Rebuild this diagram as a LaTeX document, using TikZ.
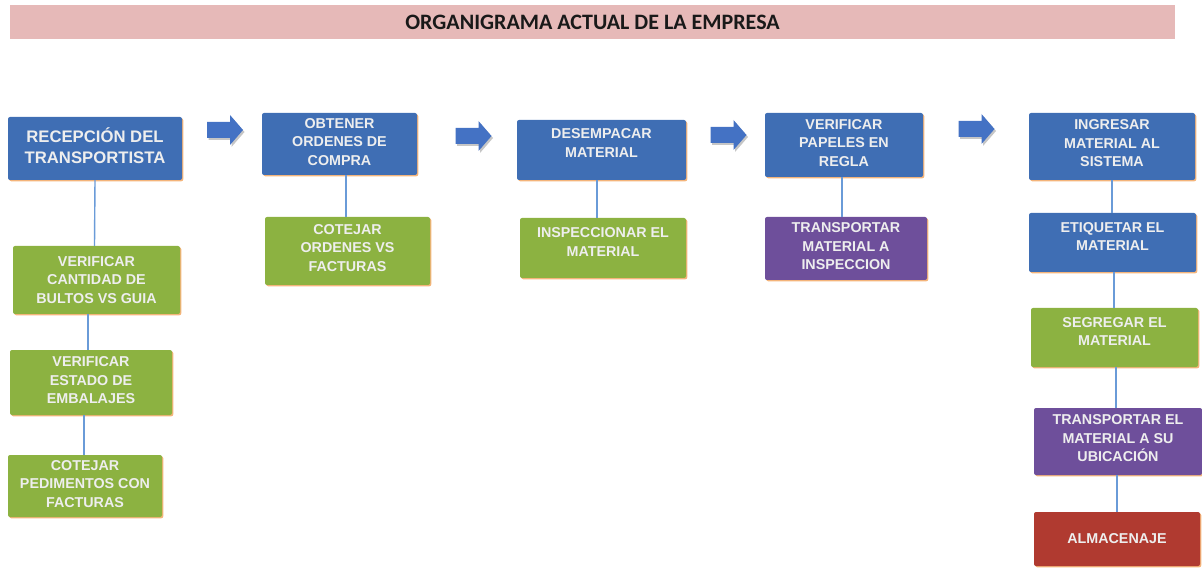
\documentclass[tikz,border=0pt]{standalone}
\usepackage{fontspec}
\setmainfont{Liberation Sans}
\newfontfamily\titlefont{Carlito}
\usetikzlibrary{shadows}
\definecolor{bxblue}{HTML}{3F6EB4}
\definecolor{bxgreen}{HTML}{8CB241}
\definecolor{bxpurple}{HTML}{6E4F9B}
\definecolor{bxred}{HTML}{B03A30}
\definecolor{edgeor}{HTML}{F4B47A}
\definecolor{txtc}{HTML}{EEEEEE}
\definecolor{connc}{HTML}{6A9BD8}
\definecolor{titlepink}{HTML}{E6B9B8}
\definecolor{arrfill}{HTML}{4472C4}
\tikzset{
  boxbase/.style={rectangle, rounded corners=2pt, inner sep=0pt,
    drop shadow={shadow xshift=1.3pt, shadow yshift=-1.3pt, fill=edgeor, opacity=1}},
  bluebox/.style={boxbase, fill=bxblue},
  greenbox/.style={boxbase, fill=bxgreen},
  purplebox/.style={boxbase, fill=bxpurple},
  redbox/.style={boxbase, fill=bxred},
  txt/.style={text=txtc, align=center, inner sep=0pt, font=\bfseries\fontsize{14.3}{18.5}\selectfont},
  bigtxt/.style={text=txtc, align=center, inner sep=0pt, font=\bfseries\fontsize{16.7}{21}\selectfont},
  conn/.style={draw=connc, line width=1.4pt},
  arrbody/.style={fill=arrfill},
  arrshade/.style={fill=gray!45},
}
\newcommand\procbox[9]{%
  \node[#2, minimum width=#5, minimum height=#6] (#1) at (#3,#4) {};
  \node[#9] (#1t) at ([yshift=#7]#1.center) {#8};}
\newcommand\blockarrow[2]{%
  \begin{scope}[shift={(#1,#2)}]
    \fill[arrshade] (-16.5,-6) -- (6.5,-6) -- (6.5,-13) -- (19.5,2) -- (6.5,17) -- (6.5,10) -- (-16.5,10) -- cycle;
    \fill[arrbody] (-18,-8) -- (5,-8) -- (5,-15) -- (18,0) -- (5,15) -- (5,8) -- (-18,8) -- cycle;
  \end{scope}}
\begin{document}
\begin{tikzpicture}[x=1pt, y=-1pt]
\useasboundingbox (0,0) rectangle (1202,569);
% title
\node[fill=titlepink, minimum width=1165, minimum height=34, inner sep=0pt,
  font=\titlefont\bfseries\fontsize{22}{26}\selectfont, text=black!90] (title) at (592.5,22) {ORGANIGRAMA ACTUAL DE LA EMPRESA};
% column 1
\procbox{b1}{bluebox}{95}{148.5}{174}{63}{3}{RECEPCIÓN DEL\\TRANSPORTISTA}{bigtxt}
\procbox{b2}{greenbox}{96.5}{280}{167}{68}{0}{VERIFICAR\\CANTIDAD DE\\BULTOS VS GUIA}{txt}
\procbox{b3}{greenbox}{91}{382.5}{162}{65}{2}{VERIFICAR\\ESTADO DE\\EMBALAJES}{txt}
\procbox{b4}{greenbox}{85}{486}{154}{62}{2}{COTEJAR\\PEDIMENTOS CON\\FACTURAS}{txt}
% column 2
\procbox{b5}{bluebox}{339.5}{144}{155}{62}{2}{OBTENER\\ORDENES DE\\COMPRA}{txt}
\procbox{b6}{greenbox}{347.5}{251}{165}{68}{3}{COTEJAR\\ORDENES VS\\FACTURAS}{txt}
% column 3
\procbox{b7}{bluebox}{601.5}{150}{169}{60}{7}{DESEMPACAR\\MATERIAL}{txt}
\procbox{b8}{greenbox}{603}{248}{166}{60}{6}{INSPECCIONAR EL\\MATERIAL}{txt}
% column 4
\procbox{b9}{bluebox}{844}{145}{158}{64}{2}{VERIFICAR\\PAPELES EN\\REGLA}{txt}
\procbox{b10}{purplebox}{846}{248.5}{162}{63}{2}{TRANSPORTAR\\MATERIAL A\\INSPECCION}{txt}
% column 5
\procbox{b11}{bluebox}{1112}{146.5}{166}{67}{3}{INGRESAR\\MATERIAL AL\\SISTEMA}{txt}
\procbox{b12}{bluebox}{1112.5}{242.5}{167}{59}{6}{ETIQUETAR EL\\MATERIAL}{txt}
\procbox{b13}{greenbox}{1114.5}{337.5}{167}{59}{6}{SEGREGAR EL\\MATERIAL}{txt}
\procbox{b14}{purplebox}{1118}{441.5}{168}{67}{3}{TRANSPORTAR EL\\MATERIAL A SU\\UBICACIÓN}{txt}
\procbox{b15}{redbox}{1117}{539}{166}{54}{0}{ALMACENAJE}{txt}
% connectors
\draw[conn] (b1.south) -- ([xshift=-2]b2.north);
\draw[conn] ([xshift=-8.5]b2.south) -- ([xshift=-3]b3.north);
\draw[conn] ([xshift=-7]b3.south) -- ([xshift=-1]b4.north);
\draw[conn] ([xshift=6.5]b5.south) -- ([xshift=-1.5]b6.north);
\draw[conn] ([xshift=-4.5]b7.south) -- ([xshift=-6]b8.north);
\draw[conn] ([xshift=-2]b9.south) -- ([xshift=-4]b10.north);
\draw[conn] (b11.south) -- ([xshift=-0.5]b12.north);
\draw[conn] ([xshift=1.5]b12.south) -- ([xshift=-0.5]b13.north);
\draw[conn] ([xshift=1.5]b13.south) -- ([xshift=-2]b14.north);
\draw[conn] ([xshift=-1]b14.south) -- (b15.north);
% block arrows
\blockarrow{225}{130}
\blockarrow{473.5}{136}
\blockarrow{728.5}{135}
\blockarrow{976.5}{129}
\end{tikzpicture}
\end{document}
